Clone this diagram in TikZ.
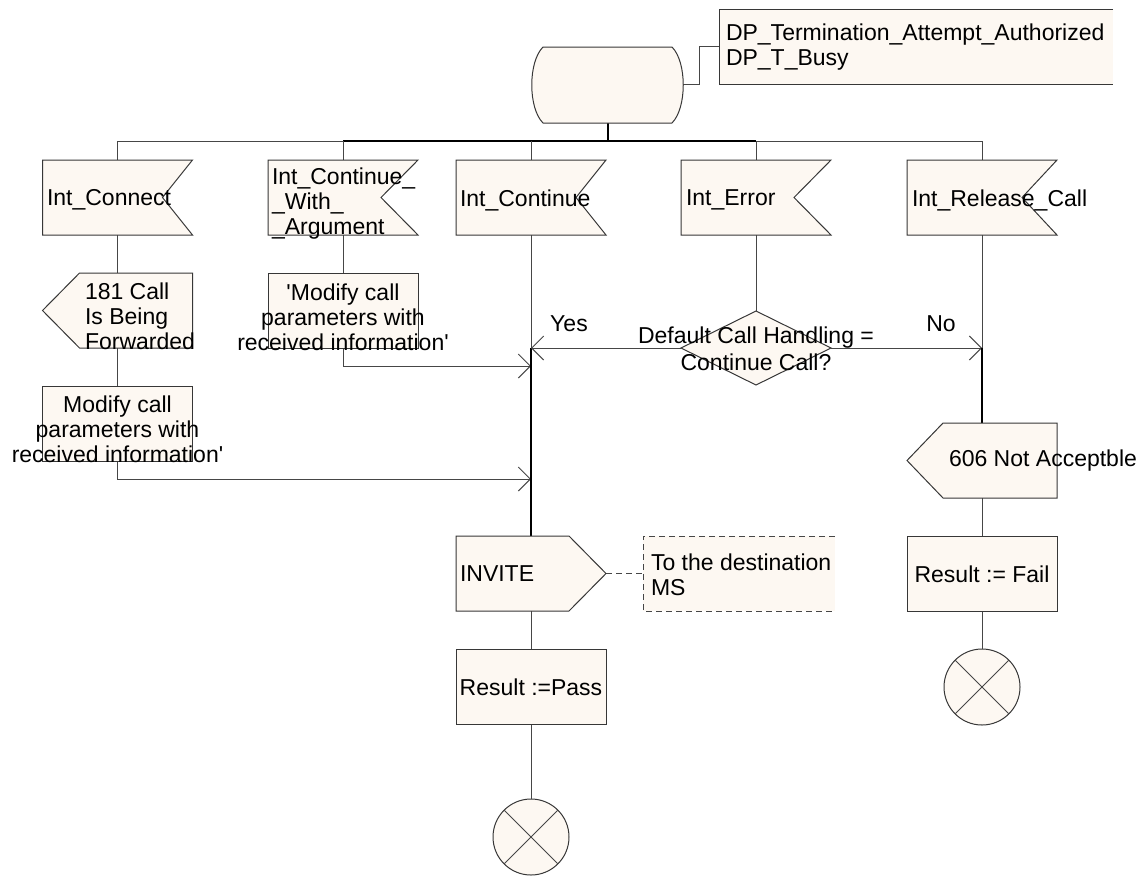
\documentclass[tikz,border=0pt]{standalone}
\usepackage{fontspec}
\setmainfont{Liberation Sans}
\newfontfamily\lsf{Liberation Sans}
\usetikzlibrary{arrows.meta,calc}
\definecolor{fillc}{RGB}{253,248,242}
\definecolor{linec}{RGB}{70,70,70}
\definecolor{edgec}{RGB}{55,55,55}
\begin{document}
\begin{tikzpicture}[x=1pt,y=-1pt,
  sym/.style={draw=none,minimum width=150pt,minimum height=75pt,inner sep=0pt,outer sep=0pt},
  shp/.style={draw=edgec,fill=fillc,line width=1pt},
  ln/.style={draw=linec,line width=1pt},
  thk/.style={draw=black,line width=2pt},
  arr/.style={-{Straight Barb[length=12pt,width=24pt]}},
  txt/.style={font=\lsf\fontsize{23}{25}\selectfont,inner sep=0pt,outer sep=0pt,text=black},
  endsym/.style={draw=edgec,fill=fillc,circle,minimum size=76pt,inner sep=0pt,outer sep=0pt,line width=1pt},
  dsh/.style={dash pattern=on 6pt off 4pt}
]
\useasboundingbox (0,0) rectangle (1140,876);

% ---------- symbol frames ----------
\node[sym,minimum width=129pt,minimum height=76pt] (start) at (607.5,85) {};
\node[sym,minimum width=394pt] (cmt1) at (916,46.5) {};
\node[sym] (ic)    at (117.5,197.5) {};
\node[sym] (icwa)  at (343,197.5) {};
\node[sym] (icont) at (531,197.5) {};
\node[sym] (ierr)  at (756,197.5) {};
\node[sym] (irc)   at (982,197.5) {};
\node[sym] (o181)  at (117.5,310.5) {};
\node[sym] (mcwa)  at (343,310.5) {};
\node[sym] (mic)   at (117.5,423.5) {};
\node[sym,minimum height=74pt] (dec) at (756,348) {};
\node[sym] (o606)  at (982,460.5) {};
\node[sym] (fail)  at (982,573.5) {};
\node[sym] (inv)   at (531,573.5) {};
\node[sym,minimum width=192pt] (cmt2) at (739,573.5) {};
\node[sym] (pass)  at (531,686.5) {};
\node[endsym] (end1) at (531,837) {};
\node[endsym] (end2) at (982,687) {};

\coordinate (busL) at (117.5,141);
\coordinate (busR) at (982,141);
\coordinate (se) at (683,84);
\coordinate (j1) at (531,366);
\coordinate (j2) at (531,479);
\coordinate (j3) at (531,348);
\coordinate (j4) at (982,348);

% ---------- connectors ----------
\draw[ln] (se) -- ++(16,0) |- (cmt1.west);
\draw[ln] (busL) -- (busR);
\draw[thk] (icwa.north |- busL) -- (ierr.north |- busL);
\draw[thk] (start.south) -- (start.south |- busL);
\draw[ln] (ic.north |- busL) -- (ic.north);
\draw[ln] (icwa.north |- busL) -- (icwa.north);
\draw[ln] (icont.north |- busL) -- (icont.north);
\draw[ln] (ierr.north |- busL) -- (ierr.north);
\draw[ln] (irc.north |- busL) -- (irc.north);

\draw[ln] (ic.south) -- (o181.north);
\draw[ln] (o181.south) -- (mic.north);
\draw[ln,arr] (mic.south) |- (j2);
\draw[ln] (icwa.south) -- (mcwa.north);
\draw[ln,arr] (mcwa.south) |- (j1);

\draw[ln] (icont.south) -- (j3);
\draw[thk] (j3) -- (inv.north);
\draw[ln] (ierr.south) -- (dec.north);
\draw[ln,arr] (dec.west) -- (j3);
\draw[ln,arr] (dec.east) -- (j4);
\draw[ln] (irc.south) -- (j4);
\draw[thk] (j4) -- (o606.north);
\draw[ln] (o606.south) -- (fail.north);
\draw[ln] (fail.south) -- (end2.north);
\draw[ln] (inv.south) -- (pass.north);
\draw[ln] (pass.south) -- (end1.north);
\draw[ln,dsh] (inv.east) -- (cmt2.west);

% ---------- shapes ----------
\draw[shp] (start.north west) -- (start.north east)
  .. controls +(15,15) and +(15,-15) .. (start.south east)
  -- (start.south west)
  .. controls +(-15,-15) and +(-15,15) .. (start.north west) -- cycle;
\draw[shp] (cmt1.north east) -- (cmt1.north west) -- (cmt1.south west) -- (cmt1.south east);

\foreach \n/\d in {ic/30,icwa/37,icont/30,ierr/37,irc/35}{
  \draw[shp] (\n.north west) -- (\n.north east) -- ($(\n.east)+(-\d,0)$)
    -- (\n.south east) -- (\n.south west) -- cycle;
}
\draw[shp] ($(o181.north west)+(37,0)$) -- (o181.north east) -- (o181.south east)
  -- ($(o181.south west)+(37,0)$) -- (o181.west) -- cycle;
\draw[shp] ($(o606.north west)+(36,0)$) -- (o606.north east) -- (o606.south east)
  -- ($(o606.south west)+(36,0)$) -- (o606.west) -- cycle;
\draw[shp] (inv.north west) -- ($(inv.north east)+(-37,0)$) -- (inv.east)
  -- ($(inv.south east)+(-37,0)$) -- (inv.south west) -- cycle;
\draw[shp] (mcwa.north west) rectangle (mcwa.south east);
\draw[shp] (mic.north west) rectangle (mic.south east);
\draw[shp] (fail.north west) rectangle (fail.south east);
\draw[shp] (pass.north west) rectangle (pass.south east);
\draw[shp] (dec.north) -- (dec.east) -- (dec.south) -- (dec.west) -- cycle;
\draw[shp,draw=linec,dsh] (cmt2.north east) -- (cmt2.north west) -- (cmt2.south west) -- (cmt2.south east);
\draw[ln] (end1.north west) -- (end1.south east) (end1.north east) -- (end1.south west);
\draw[ln] (end2.north west) -- (end2.south east) (end2.north east) -- (end2.south west);

% ---------- texts ----------
\node[txt,anchor=west,align=left] (cmt1t) at (726,47) {DP\_Termination\_Attempt\_Authorized\\DP\_T\_Busy};
\node[txt,anchor=west] (ict) at (47,200) {Int\_Connect};
\node[txt,anchor=west,align=left] (icwat) at (272,204) {Int\_Continue\_\\\_With\_\\\_Argument};
\node[txt,anchor=west] (icontt) at (460,200) {Int\_Continue};
\node[txt,anchor=west] (ierrt) at (686,200) {Int\_Error};
\node[txt,anchor=west] (irct) at (912,200) {Int\_Release\_Call};
\node[txt,anchor=west,align=left] (o181t) at (85,316) {181 Call\\Is Being\\Forwarded};
\node[txt,align=center] (mcwat) at (343,317) {'Modify call\\parameters with\\received information'};
\node[txt,align=center] (mict) at (117.5,429) {Modify call\\parameters with\\received information'};
\node[txt,align=center,font=\lsf\fontsize{23}{27}\selectfont] (dect) at (756,349) {Default Call Handling =\\Continue Call?};
\node[txt] (yes) at (569,324) {Yes};
\node[txt] (no) at (941,324) {No};
\node[txt,anchor=west] (o606t) at (949,461) {606 Not Acceptble};
\node[txt] (failt) at (982,574) {Result := Fail};
\node[txt,anchor=west] (invt) at (460,574) {INVITE};
\node[txt,anchor=west,align=left] (cmt2t) at (651,575) {To the destination\\MS};
\node[txt] (passt) at (531,687) {Result :=Pass};
\end{tikzpicture}
\end{document}
